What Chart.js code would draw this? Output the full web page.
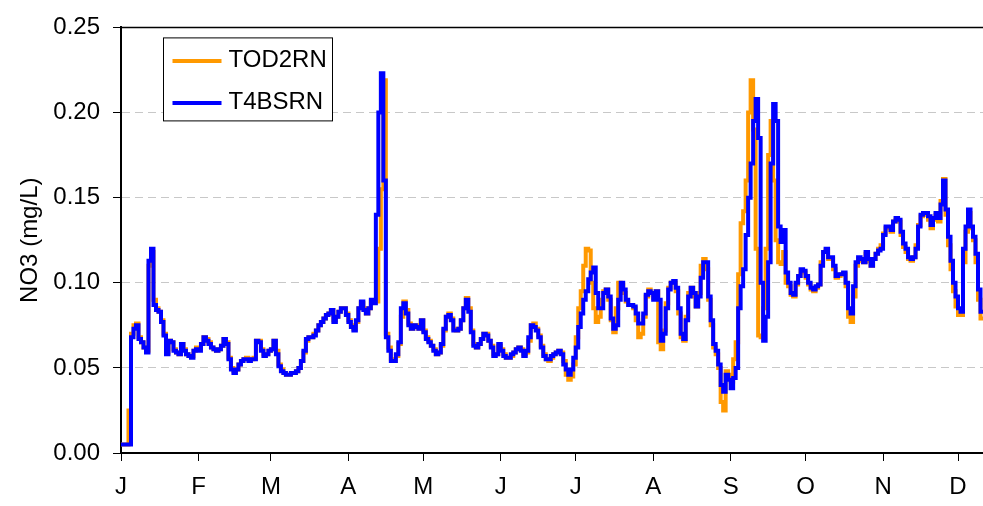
<!DOCTYPE html>
<html>
<head>
<meta charset="utf-8">
<title>NO3 (mg/L)</title>
<script src="https://cdn.jsdelivr.net/npm/chart.js@4.4.1/dist/chart.umd.min.js"></script>
<style>
  html, body { margin: 0; padding: 0; background: #fff; }
  #wrap { width: 983px; height: 506px; }
</style>
</head>
<body>
<div id="wrap"><canvas id="c" width="983" height="506"></canvas></div>
<script>
// Daily nitrate readings (mg/L), index = day of year starting 1 January
const tod2rn = [
  0.005, 0.005, 0.005, 0.025, 0.070, 0.075, 0.076, 0.068, 0.065, 0.062,
  0.060, 0.110, 0.118, 0.090, 0.085, 0.083, 0.078, 0.070, 0.059, 0.066,
  0.065, 0.061, 0.059, 0.058, 0.064, 0.061, 0.058, 0.057, 0.057, 0.060,
  0.062, 0.061, 0.064, 0.068, 0.067, 0.065, 0.062, 0.061, 0.060, 0.061,
  0.063, 0.067, 0.065, 0.056, 0.050, 0.048, 0.049, 0.052, 0.054, 0.055,
  0.056, 0.055, 0.055, 0.056, 0.066, 0.066, 0.061, 0.058, 0.058, 0.060,
  0.061, 0.066, 0.060, 0.052, 0.049, 0.047, 0.046, 0.046, 0.047, 0.047,
  0.048, 0.050, 0.054, 0.059, 0.066, 0.068, 0.068, 0.070, 0.072, 0.075,
  0.077, 0.079, 0.081, 0.082, 0.084, 0.078, 0.080, 0.083, 0.085, 0.085,
  0.082, 0.078, 0.075, 0.073, 0.077, 0.085, 0.088, 0.085, 0.082, 0.085,
  0.089, 0.089, 0.089, 0.120, 0.155, 0.219, 0.070, 0.062, 0.055, 0.054,
  0.057, 0.064, 0.080, 0.089, 0.084, 0.076, 0.073, 0.075, 0.075, 0.073,
  0.078, 0.072, 0.068, 0.066, 0.063, 0.061, 0.058, 0.059, 0.063, 0.072,
  0.080, 0.082, 0.079, 0.073, 0.072, 0.073, 0.078, 0.085, 0.091, 0.085,
  0.072, 0.064, 0.062, 0.064, 0.067, 0.070, 0.070, 0.066, 0.063, 0.058,
  0.058, 0.063, 0.061, 0.058, 0.056, 0.056, 0.057, 0.059, 0.061, 0.062,
  0.061, 0.058, 0.059, 0.066, 0.075, 0.076, 0.073, 0.069, 0.063, 0.058,
  0.055, 0.054, 0.056, 0.058, 0.059, 0.060, 0.059, 0.054, 0.046, 0.043,
  0.045, 0.052, 0.068, 0.085, 0.095, 0.110, 0.120, 0.119, 0.100, 0.085,
  0.077, 0.080, 0.090, 0.095, 0.096, 0.090, 0.078, 0.071, 0.085, 0.100,
  0.099, 0.094, 0.089, 0.087, 0.087, 0.085, 0.078, 0.068, 0.070, 0.080,
  0.092, 0.096, 0.094, 0.091, 0.095, 0.065, 0.061, 0.072, 0.088, 0.097,
  0.100, 0.100, 0.095, 0.082, 0.068, 0.066, 0.080, 0.094, 0.097, 0.092,
  0.086, 0.094, 0.110, 0.114, 0.108, 0.090, 0.075, 0.062, 0.058, 0.050,
  0.030, 0.025, 0.048, 0.046, 0.042, 0.055, 0.065, 0.105, 0.135, 0.142,
  0.160, 0.200, 0.219, 0.190, 0.120, 0.069, 0.068, 0.085, 0.120, 0.175,
  0.195, 0.160, 0.125, 0.112, 0.111, 0.118, 0.100, 0.098, 0.093, 0.092,
  0.099, 0.104, 0.107, 0.106, 0.103, 0.099, 0.096, 0.095, 0.097, 0.099,
  0.112, 0.118, 0.119, 0.114, 0.114, 0.108, 0.103, 0.104, 0.105, 0.105,
  0.098, 0.080, 0.077, 0.092, 0.110, 0.114, 0.113, 0.112, 0.117, 0.113,
  0.110, 0.114, 0.117, 0.120, 0.122, 0.129, 0.132, 0.132, 0.130, 0.136,
  0.137, 0.136, 0.128, 0.121, 0.118, 0.114, 0.113, 0.115, 0.122, 0.134,
  0.139, 0.140, 0.140, 0.137, 0.132, 0.137, 0.140, 0.136, 0.148, 0.161,
  0.140, 0.122, 0.108, 0.095, 0.086, 0.081, 0.081, 0.112, 0.130, 0.141,
  0.132, 0.125, 0.112, 0.090, 0.079, 0.078
];

const t4bsrn = [
  0.005, 0.005, 0.005, 0.005, 0.068, 0.073, 0.075, 0.067, 0.065, 0.062,
  0.059, 0.113, 0.120, 0.087, 0.084, 0.083, 0.077, 0.069, 0.058, 0.066,
  0.065, 0.060, 0.059, 0.058, 0.064, 0.060, 0.058, 0.057, 0.056, 0.060,
  0.061, 0.060, 0.064, 0.068, 0.066, 0.064, 0.062, 0.061, 0.060, 0.061,
  0.063, 0.067, 0.064, 0.055, 0.049, 0.047, 0.049, 0.052, 0.054, 0.055,
  0.055, 0.054, 0.055, 0.055, 0.066, 0.065, 0.060, 0.057, 0.058, 0.060,
  0.061, 0.066, 0.058, 0.051, 0.048, 0.047, 0.046, 0.046, 0.047, 0.047,
  0.048, 0.050, 0.054, 0.060, 0.067, 0.068, 0.068, 0.069, 0.072, 0.075,
  0.077, 0.079, 0.081, 0.082, 0.084, 0.077, 0.080, 0.083, 0.085, 0.085,
  0.081, 0.077, 0.074, 0.072, 0.078, 0.085, 0.089, 0.084, 0.082, 0.085,
  0.090, 0.088, 0.140, 0.200, 0.223, 0.160, 0.068, 0.060, 0.054, 0.054,
  0.058, 0.065, 0.085, 0.088, 0.082, 0.075, 0.073, 0.075, 0.074, 0.073,
  0.078, 0.071, 0.067, 0.065, 0.063, 0.060, 0.058, 0.059, 0.064, 0.073,
  0.080, 0.081, 0.078, 0.072, 0.072, 0.073, 0.078, 0.085, 0.090, 0.083,
  0.071, 0.063, 0.062, 0.064, 0.067, 0.070, 0.069, 0.066, 0.062, 0.057,
  0.058, 0.064, 0.060, 0.057, 0.056, 0.056, 0.058, 0.059, 0.061, 0.062,
  0.060, 0.057, 0.060, 0.068, 0.075, 0.074, 0.072, 0.068, 0.062, 0.057,
  0.055, 0.055, 0.057, 0.058, 0.059, 0.060, 0.058, 0.052, 0.049, 0.046,
  0.049, 0.056, 0.062, 0.074, 0.082, 0.090, 0.095, 0.102, 0.106, 0.109,
  0.094, 0.085, 0.085, 0.094, 0.096, 0.092, 0.079, 0.073, 0.075, 0.090,
  0.100, 0.096, 0.090, 0.087, 0.087, 0.086, 0.082, 0.076, 0.076, 0.082,
  0.093, 0.095, 0.094, 0.090, 0.095, 0.090, 0.066, 0.070, 0.085, 0.096,
  0.100, 0.101, 0.097, 0.085, 0.070, 0.067, 0.078, 0.092, 0.097, 0.094,
  0.086, 0.092, 0.103, 0.112, 0.112, 0.092, 0.078, 0.064, 0.060, 0.052,
  0.040, 0.036, 0.046, 0.043, 0.038, 0.044, 0.050, 0.085, 0.098, 0.108,
  0.128, 0.150, 0.170, 0.195, 0.208, 0.185, 0.100, 0.066, 0.080, 0.112,
  0.170, 0.205, 0.195, 0.133, 0.124, 0.131, 0.106, 0.100, 0.094, 0.093,
  0.100, 0.104, 0.108, 0.107, 0.104, 0.100, 0.097, 0.096, 0.098, 0.099,
  0.110, 0.118, 0.120, 0.115, 0.115, 0.110, 0.104, 0.105, 0.105, 0.106,
  0.100, 0.085, 0.082, 0.098, 0.112, 0.115, 0.114, 0.112, 0.118, 0.114,
  0.110, 0.114, 0.117, 0.119, 0.120, 0.128, 0.133, 0.133, 0.131, 0.136,
  0.138, 0.137, 0.130, 0.123, 0.120, 0.115, 0.114, 0.115, 0.120, 0.133,
  0.140, 0.141, 0.141, 0.139, 0.134, 0.138, 0.141, 0.138, 0.146, 0.160,
  0.143, 0.127, 0.113, 0.100, 0.092, 0.085, 0.083, 0.120, 0.133, 0.143,
  0.133, 0.127, 0.117, 0.096, 0.083, 0.083
];

// Month initials on the time axis and the day each month begins
const monthLabels = ['J', 'F', 'M', 'A', 'M', 'J', 'J', 'A', 'S', 'O', 'N', 'D'];
const monthStartDays = [0, 31, 60, 91, 121, 152, 182, 213, 244, 274, 305, 335];

// Vertical scale ticks
const yTicks = [0.00, 0.05, 0.10, 0.15, 0.20, 0.25];

const FONT = "'Liberation Sans', Arial, Helvetica, sans-serif";

const toPoints = arr => arr.map((v, i) => ({ x: i, y: v }));

// Chart frame top edge and the boxed series key
const frameAndKey = {
  id: 'frameAndKey',
  afterDraw(chart) {
    const { ctx, chartArea: a } = chart;
    ctx.save();
    ctx.strokeStyle = '#000';
    ctx.lineWidth = 1.5;
    ctx.beginPath();
    ctx.moveTo(a.left, a.top);
    ctx.lineTo(a.right, a.top);
    ctx.stroke();

    const bx = a.left + 42.5, by = a.top + 10.5, bw = 169, bh = 83;
    ctx.fillStyle = '#fff';
    ctx.fillRect(bx, by, bw, bh);
    ctx.lineWidth = 1;
    ctx.strokeRect(bx, by, bw, bh);

    const ds = chart.data.datasets;
    const rows = [by + 23, by + 65];
    ctx.font = '24px ' + FONT;
    ctx.textBaseline = 'middle';
    ctx.textAlign = 'left';
    ds.forEach((d, i) => {
      const y = rows[i];
      ctx.strokeStyle = d.borderColor;
      ctx.lineWidth = 4;
      ctx.beginPath();
      ctx.moveTo(bx + 9, y);
      ctx.lineTo(bx + 58, y);
      ctx.stroke();
      ctx.fillStyle = '#000';
      ctx.fillText(d.label, bx + 65, y - 1);
    });
    ctx.restore();
  }
};

new Chart(document.getElementById('c'), {
  type: 'line',
  data: {
    datasets: [
      {
        label: 'TOD2RN',
        data: toPoints(tod2rn),
        borderColor: '#FF9900',
        borderWidth: 4,
        pointRadius: 0,
        stepped: true,
        fill: false,
        order: 2
      },
      {
        label: 'T4BSRN',
        data: toPoints(t4bsrn),
        borderColor: '#0000FF',
        borderWidth: 4,
        pointRadius: 0,
        stepped: true,
        fill: false,
        order: 1
      }
    ]
  },
  options: {
    responsive: false,
    animation: false,
    devicePixelRatio: 1,
    layout: { padding: { top: 21, right: 0, bottom: 0, left: 0 } },
    plugins: {
      legend: { display: false },
      tooltip: { enabled: false }
    },
    scales: {
      x: {
        type: 'linear',
        min: 0,
        max: 345,
        afterBuildTicks: s => { s.ticks = monthStartDays.map(v => ({ value: v })); },
        afterFit: s => { s.height = 53; },
        ticks: {
          autoSkip: false,
          maxRotation: 0,
          padding: 12,
          color: '#000',
          font: { family: FONT, size: 24 },
          callback: (v, i) => monthLabels[i]
        },
        grid: {
          drawOnChartArea: false,
          tickLength: 8,
          tickColor: '#000',
          tickWidth: 1
        },
        border: { display: true, color: '#000', width: 2 }
      },
      y: {
        min: 0,
        max: 0.25,
        afterBuildTicks: s => { s.ticks = yTicks.map(v => ({ value: v })); },
        afterFit: s => { s.width = 121; },
        ticks: {
          padding: 13,
          color: '#000',
          font: { family: FONT, size: 24 },
          callback: v => v.toFixed(2)
        },
        grid: {
          color: '#c8c8c8',
          lineWidth: 1,
          tickLength: 8,
          tickColor: '#000',
          tickWidth: 1,
          tickBorderDash: []
        },
        border: { display: true, color: '#000', width: 2, dash: [8, 5] },
        title: {
          display: true,
          text: 'NO3 (mg/L)',
          color: '#000',
          font: { family: FONT, size: 24 },
          padding: { top: 16, bottom: 0 }
        }
      }
    }
  },
  plugins: [frameAndKey]
});
</script>
</body>
</html>
